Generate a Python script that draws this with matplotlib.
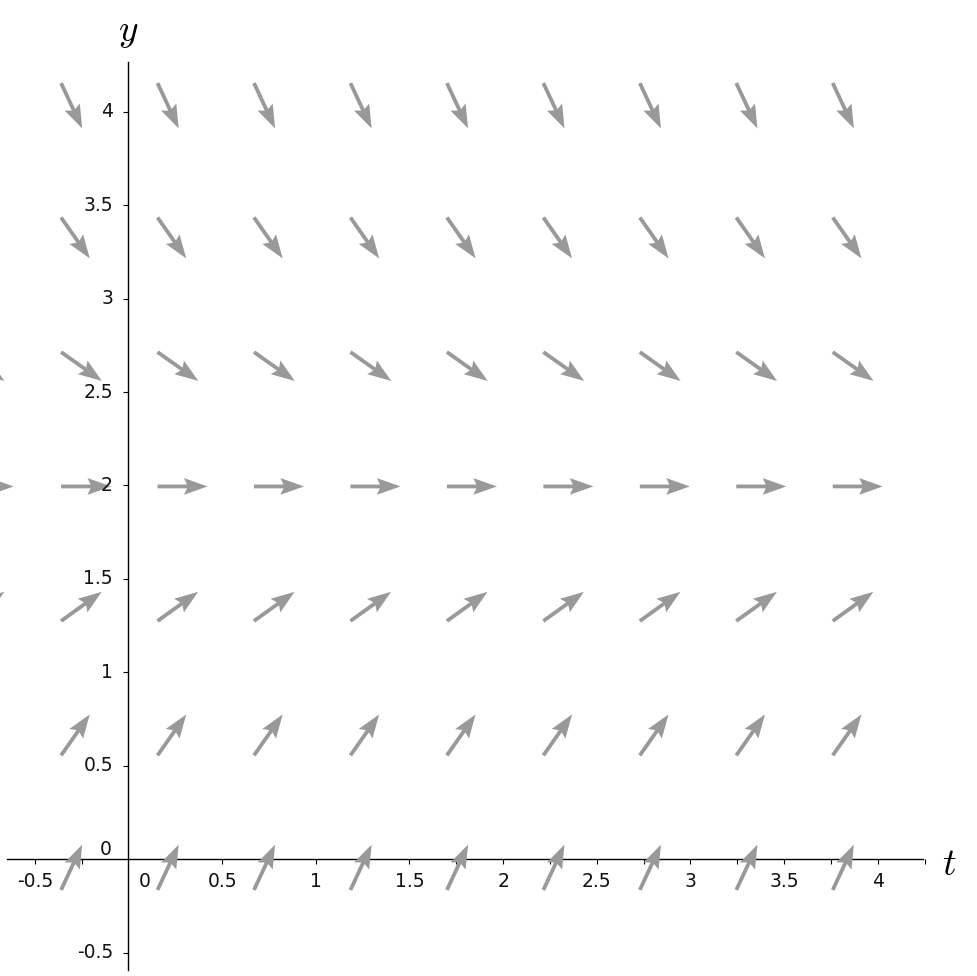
import numpy as np
import matplotlib
matplotlib.use("Agg")
import matplotlib.pyplot as plt

# ---- data ----
t_cols = [-0.88, -0.36, 0.155, 0.67, 1.185, 1.70, 2.215, 2.73, 3.245, 3.76]
y_rows = [-0.164, 0.556, 1.275, 1.995, 2.714, 3.434, 4.153]
row_slopes = [2.15, 1.43, 0.72, 0.0, -0.71, -1.43, -2.15]
x_tick_vals = [-0.5, 0.5, 1, 1.5, 2, 2.5, 3, 3.5, 4]
x_tick_labels = ["-0.5", "0.5", "1", "1.5", "2", "2.5", "3", "3.5", "4"]
x_minor_vals = [-0.25, 0.25, 0.75, 1.25, 1.75, 2.25, 2.75, 3.25, 3.75, 4.25]
y_tick_vals = [-0.5, 0.5, 1, 1.5, 2, 2.5, 3, 3.5, 4]
y_tick_labels = ["-0.5", "0.5", "1", "1.5", "2", "2.5", "3", "3.5", "4"]

plt.rcParams['mathtext.fontset'] = 'cm'

W, H = 978, 976
fig = plt.figure(figsize=(W / 100, H / 100), dpi=100)
ax = fig.add_axes([0, 0, 1, 1])

sx, sy = 187.3, 186.9          # pixels per data unit
x0px, y0px = 128.5, 859.3      # pixel location of origin
ax.set_xlim(-x0px / sx, (W - x0px) / sx)
ax.set_ylim((y0px - H) / sy, y0px / sy)

# ---- slope field arrows ----
TT, YY = np.meshgrid(t_cols, y_rows)
S = np.repeat(np.array(row_slopes)[:, None], len(t_cols), axis=1)
Lpx = 50.0
theta = np.arctan(S * sy / sx)
U = Lpx * np.cos(theta) / sx
V = Lpx * np.sin(theta) / sy
ax.quiver(TT, YY, U, V, angles='xy', scale_units='xy', scale=1, pivot='tail',
          color='#999999', width=3.8 / W, headwidth=4.4, headlength=6.2,
          headaxislength=5.4, zorder=3)

# ---- axes through origin ----
for s in ['top', 'right']:
    ax.spines[s].set_visible(False)
ax.spines['left'].set_position(('data', 0))
ax.spines['bottom'].set_position(('data', 0))
ax.spines['left'].set_bounds((y0px - 970) / sy, (y0px - 62) / sy)
ax.spines['bottom'].set_bounds((7 - x0px) / sx, (923 - x0px) / sx)
for s in ['left', 'bottom']:
    ax.spines[s].set_linewidth(1.0)
    ax.spines[s].set_color('black')

ax.set_xticks(x_tick_vals)
ax.set_xticks(x_minor_vals, minor=True)
ax.set_yticks(y_tick_vals)
ax.set_xticklabels([])
ax.set_yticklabels([])
ax.tick_params(axis='x', which='both', direction='out', length=3.6, width=0.8)
ax.tick_params(axis='y', which='both', direction='out', length=3.6, width=0.8)

fs = 13.5
for v, lab in zip(x_tick_vals, x_tick_labels):
    ax.text(v, -12.5 / sy, lab, ha='center', va='top', fontsize=fs, color='#111111')
for v, lab in zip(y_tick_vals, y_tick_labels):
    ax.text(-15.5 / sx, v, lab, ha='right', va='center', fontsize=fs, color='#111111')
# origin labels
ax.text(16.5 / sx, -12.5 / sy, "0", ha='center', va='top', fontsize=fs, color='#111111')
ax.text(-16.5 / sx, 9.5 / sy, "0", ha='right', va='center', fontsize=fs, color='#111111')

# axis labels
ax.text((949 - x0px) / sx, (y0px - 865) / sy, "$t$", ha='center', va='center', fontsize=27)
ax.text(0, (y0px - 32) / sy, "$y$", ha='center', va='center', fontsize=27)

fig.savefig("out.png", dpi=100)
